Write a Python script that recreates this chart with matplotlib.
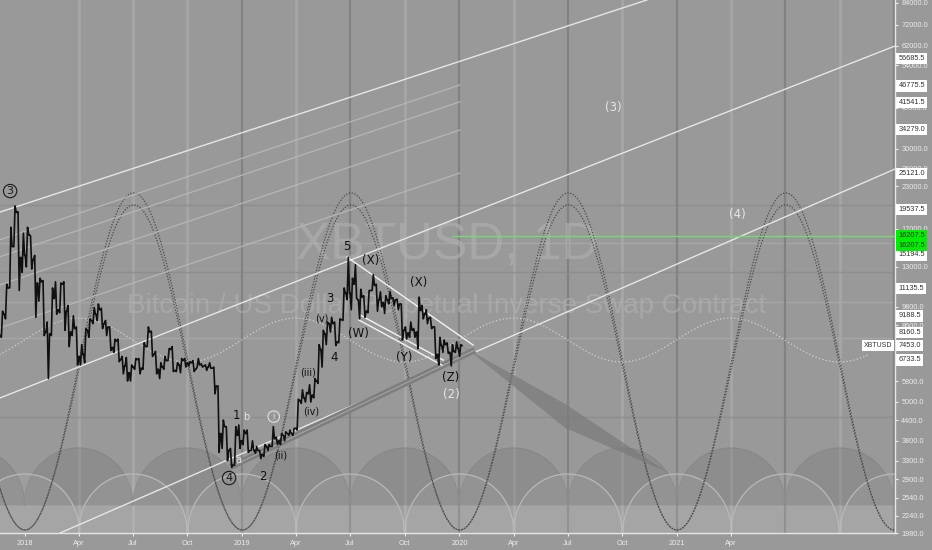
import numpy as np
import pandas as pd
import matplotlib
matplotlib.use("Agg")
import matplotlib.pyplot as plt
import matplotlib.dates as mdates
from matplotlib.patches import Polygon
from matplotlib.ticker import FixedLocator, NullLocator, FixedFormatter

# ---------------- data ----------------
week_start = "2017-11-20"
first_open = 8000
highs = [9500, 11500, 17200, 20000, 19200, 16500, 17200, 16200, 14100, 12000,
         11800, 8800, 11200, 11700, 11600, 11700, 9900, 9200, 8500, 7500,
         8400, 9000, 9750, 10000, 9700, 8900, 8500, 7800, 7800, 6900,
         6850, 6500, 6800, 6800, 7600, 8500, 8250, 7150, 6600, 6900,
         7300, 7400, 6600, 6800, 6800, 6650, 6700, 6800, 6550, 6500,
         6600, 6400, 5600, 4400, 4200, 3600, 4200, 4250, 4100, 4100,
         3800, 3650, 3550, 3700, 3700, 4200, 3900, 4000, 4050, 4100,
         4150, 5100, 5450, 5350, 5650, 5900, 7500, 8300, 8800, 9100,
         8800, 9000, 11200, 13900, 12000, 13200, 11100, 10600, 11000, 12300,
         11500, 10900, 10600, 10900, 10450, 10350, 10000, 8500, 8800, 8400,
         10500, 9900, 9600, 9100, 8500, 7900, 7750, 7600, 7500, 7650, 7500]
lows = [7900, 9000, 11200, 15000, 11000, 12500, 13000, 12800, 9100, 10200,
        8000, 5900, 8000, 9300, 9400, 8300, 7400, 8000, 6500, 6500,
        6600, 7900, 8700, 8900, 8400, 8000, 7200, 7100, 6650, 6100,
        5800, 5800, 6300, 6100, 6300, 7400, 6900, 6100, 5900, 6300,
        6700, 6200, 6200, 6150, 6400, 6450, 6200, 6400, 6400, 6250,
        6350, 5300, 3500, 3600, 3300, 3150, 3200, 3600, 3700, 3500,
        3550, 3480, 3350, 3400, 3550, 3650, 3700, 3700, 3800, 3950,
        3950, 4100, 4950, 5000, 5000, 5150, 5700, 6400, 7500, 8200,
        7450, 7600, 8900, 10300, 9600, 10400, 9000, 9100, 9400, 11000,
        9500, 9800, 9350, 10000, 9900, 9600, 7750, 7800, 7900, 7900,
        7300, 9000, 8700, 8400, 6800, 6500, 7100, 7050, 6450, 7100, 6900]
closes = [9300, 11200, 15000, 19100, 13900, 14100, 16300, 13700, 11600, 11700,
          8200, 8100, 10400, 9600, 11500, 9500, 8200, 8400, 6900, 7000,
          8300, 8900, 9300, 9600, 8700, 8500, 7350, 7700, 6750, 6450,
          6150, 6400, 6750, 6350, 7400, 8200, 7000, 6300, 6400, 6700,
          7250, 6250, 6500, 6700, 6600, 6600, 6300, 6500, 6450, 6400,
          6350, 5600, 4000, 4200, 3550, 3200, 3950, 3800, 4000, 3550,
          3550, 3550, 3450, 3650, 3650, 3850, 3800, 3950, 4000, 4000,
          4150, 5050, 5150, 5300, 5250, 5800, 7250, 8100, 8700, 8700,
          7650, 8950, 10800, 10800, 11500, 10300, 10500, 9500, 11000, 11400,
          10300, 10100, 10300, 10400, 10300, 10000, 8300, 8150, 8300, 8200,
          9550, 9300, 9050, 8500, 7000, 7450, 7500, 7100, 7150, 7300, 7453]

price_ticks = [84000, 72000, 62000, 54000, 40000, 30000, 26000, 23000, 17000,
               13000, 9800, 8600, 5800, 5000, 4400, 3800, 3300, 2900, 2540, 2240, 1980]
box_prices = [56685.5, 46775.5, 41541.5, 34279.0, 25121.0, 19537.5, 15194.5,
              11135.5, 9188.5, 8160.5, 7453.0, 6733.5]
box_shift_px = [0, 0, 0, 0, 0, 0, -10, 0, 0, 0, 0, 0]
green_prices = [16207.5, 16207.5]
green_shift_px = [0, -9.5]

date_ticks = ["2018-01-01", "2018-04-01", "2018-07-01", "2018-10-01", "2019-01-01",
              "2019-04-01", "2019-07-01", "2019-10-01", "2020-01-01", "2020-04-01",
              "2020-07-01", "2020-10-01", "2021-01-01", "2021-04-01"]
date_labels = ["2018", "Apr", "Jul", "Oct", "2019", "Apr", "Jul", "Oct", "2020",
               "Apr", "Jul", "Oct", "2021", "Apr"]

dark_vlines = ["2019-01-01", "2019-07-01", "2020-01-01", "2020-07-01",
               "2021-01-01", "2021-07-01", "2022-01-01"]
light_vlines = ["2018-04-01", "2018-07-01", "2018-10-01", "2019-04-01", "2019-10-01",
                "2020-04-01", "2020-10-01", "2021-04-01", "2021-10-01"]
hline_prices = [20140, 15390, 12530, 10140, 7860, 4500]
hline_dark = [True, False, True, False, False, True]

# channel / fan lines (start date, start price, end date, end price)
bright_lines = [("2017-11-20", 19150, "2020-11-11", 85800),
                ("2017-11-20", 5145, "2022-01-06", 62400),
                ("2018-03-01", 1980, "2022-01-06", 26160)]
faint_start = [15740, 13970, 11450, 8445]
faint_end = [47070, 41780, 34240, 25250]
faint_dates = ("2017-11-20", "2020-01-02")

triangle_lines = [("2019-06-26", 13940, "2020-01-24", 7480),
                  ("2019-07-18", 9250, "2019-12-05", 6720),
                  ("2019-07-16", 8930, "2019-12-03", 6485)]
support_line = ("2018-12-12", 3158, "2020-01-27", 7220)
wedge_dates = ["2020-01-02", "2020-06-27", "2020-12-15", "2020-06-27", "2020-01-27"]
wedge_prices = [7480, 4930, 3047, 4160, 6970]
green_line = ("2019-12-20", 16207.5)

# cycle tools
cycle_anchor = "2018-01-01"      # trough of the big cycles
cycle_low = 2022
cycle_highs = [21930, 20140]
small_anchor = "2018-04-01"      # peak of the small cycle
small_high, small_low = 9050, 6635
dome_centers = ["2017-10-01", "2018-04-01", "2018-10-01", "2019-04-01", "2019-10-01",
                "2020-04-01", "2020-10-01", "2021-04-01", "2021-10-01"]
dome_base, dome_top = 2414, 3610
arc_centers = ["2017-07-01", "2018-01-01", "2018-07-01", "2019-01-01", "2019-07-01",
               "2020-01-01", "2020-07-01", "2021-01-01", "2021-07-01", "2022-01-01"]
arc_base, arc_top = 1990, 3005

wave_labels = [
    ("3", "2017-12-07", 22220, "#1a1a1a", 8, True),
    ("4", "2018-12-10", 2921, "#1a1a1a", 8, True),
    ("1", "2018-12-23", 4530, "#111111", 8.5, False),
    ("b", "2019-01-08", 4490, "#e0e0e0", 7, False),
    ("a", "2018-12-25", 3317, "#e0e0e0", 7, False),
    ("2", "2019-02-05", 2962, "#111111", 8.5, False),
    ("i", "2019-02-23", 4510, "#e0e0e0", 6, True),
    ("(ii)", "2019-03-06", 3435, "#111111", 7, False),
    ("(iii)", "2019-04-21", 6180, "#111111", 7, False),
    ("(iv)", "2019-04-27", 4660, "#111111", 7, False),
    ("(v)", "2019-05-14", 9050, "#111111", 7, False),
    ("3", "2019-05-28", 10360, "#111111", 8.5, False),
    ("4", "2019-06-05", 6870, "#111111", 8.5, False),
    ("5", "2019-06-26", 14970, "#111111", 8.5, False),
    ("(X)", "2019-08-05", 13640, "#111111", 8.5, False),
    ("(W)", "2019-07-15", 8090, "#111111", 8.5, False),
    ("(Y)", "2019-09-30", 6870, "#111111", 8.5, False),
    ("(X)", "2019-10-25", 11680, "#111111", 8.5, False),
    ("(Z)", "2019-12-18", 5925, "#111111", 8.5, False),
    ("(2)", "2019-12-18", 5255, "#e6e6e6", 8.5, False),
    ("(3)", "2020-09-15", 40200, "#e6e6e6", 8.5, False),
    ("(4)", "2021-04-12", 18870, "#e6e6e6", 8.5, False),
]

# ---------------- figure ----------------
BG = "#999999"
plt.rcParams["font.family"] = ["Liberation Sans", "DejaVu Sans"]
fig = plt.figure(figsize=(9.32, 5.5), dpi=100, facecolor=BG)
ax = fig.add_axes([0, 17 / 550, 895 / 932, 533 / 550], facecolor=BG)
ax.set_yscale("log")
x0 = pd.Timestamp("2017-11-20")
x1 = pd.Timestamp("2022-01-02")
ax.set_xlim(x0, x1)
ax.set_ylim(1980, 85800)

def D(s):
    return pd.Timestamp(s)

# grid-like verticals and horizontals
for d in light_vlines:
    ax.axvline(D(d), color="#a6a6a6", lw=2.0, zorder=0.3)
for d in dark_vlines:
    ax.axvline(D(d), color="#828282", lw=1.6, zorder=0.35)
for p, dk in zip(hline_prices, hline_dark):
    ax.axhline(p, color="#8e8e8e" if dk else "#a6a6a6", lw=1.0, zorder=0.3)

# bottom band
ax.axhspan(1980, dome_base, color="white", alpha=0.08, lw=0, zorder=0.4)

# domes (darker) and arcs (lighter)
half = 91.3
u = np.linspace(-1, 1, 200)
for c in dome_centers:
    cx = mdates.date2num(D(c))
    xs = cx + u * half
    ys = np.exp(np.log(dome_base) + np.log(dome_top / dome_base) * np.sqrt(1 - u ** 2))
    ax.fill_between(mdates.num2date(xs), dome_base, ys, color="#6a6a6a", alpha=0.25, lw=0, zorder=0.5)
    ax.plot(mdates.num2date(xs), ys, color="#878787", lw=0.9, zorder=0.55)
for c in arc_centers:
    cx = mdates.date2num(D(c))
    xs = cx + u * half
    ys = np.exp(np.log(arc_base) + np.log(arc_top / arc_base) * np.sqrt(1 - u ** 2))
    ax.fill_between(mdates.num2date(xs), arc_base, ys, color="white", alpha=0.06, lw=0, zorder=0.6)
    ax.plot(mdates.num2date(xs), ys, color="#b9b9b9", lw=0.9, zorder=0.65)

# watermark
ax.text(0.4994, 0.5385, "XBTUSD, 1D", transform=ax.transAxes, ha="center", va="center",
        fontsize=37, color="#b2b2b2", alpha=0.6, zorder=0.7)
ax.text(0.4994, 0.426, "Bitcoin / US Dollar Perpetual Inverse Swap Contract",
        transform=ax.transAxes, ha="center", va="center",
        fontsize=20, color="#b2b2b2", alpha=0.6, zorder=0.7)

# big cycle sine lines (dotted)
t = np.linspace(mdates.date2num(x0) - 5, mdates.date2num(x1) + 5, 1500)
ph = 2 * np.pi * (t - mdates.date2num(D(cycle_anchor))) / 365.25
for hi in cycle_highs:
    yv = np.exp(np.log(cycle_low) + np.log(hi / cycle_low) * (1 - np.cos(ph)) / 2)
    ax.plot(mdates.num2date(t), yv, color="#4a4a4a", lw=0.9, ls=(0, (1, 1.3)), zorder=2)
ph2 = 2 * np.pi * (t - mdates.date2num(D(small_anchor))) / 365.25
ys2 = np.exp(np.log(small_low) + np.log(small_high / small_low) * (1 + np.cos(ph2)) / 2)
mask = t < mdates.date2num(D("2021-11-20"))
ax.plot(mdates.num2date(t[mask]), ys2[mask], color="#d2d2d2", lw=0.9, ls=(0, (1, 1.8)), zorder=2)

# channel lines
for d0, p0, d1, p1 in bright_lines:
    ax.plot([D(d0), D(d1)], [p0, p1], color="#e6e6e6", lw=1.0, zorder=2.2)
for p0, p1 in zip(faint_start, faint_end):
    ax.plot([D(faint_dates[0]), D(faint_dates[1])], [p0, p1], color="#b6b6b6", lw=0.9, zorder=2.1)

# green level
ax.plot([D(green_line[0]), x1], [green_line[1], green_line[1]], color="#74d874", lw=1.0, zorder=2.2)

# wedge projection
ax.add_patch(Polygon(list(zip(mdates.date2num([D(d) for d in wedge_dates]), wedge_prices)),
                     closed=True, fc="#7a7a7a", ec="none", alpha=0.7, zorder=2.3))

# support band line
d0, p0, d1, p1 = support_line
ax.plot([D(d0), D(d1)], [p0, p1], color="#7e7e7e", lw=4.5, zorder=2.4, solid_capstyle="butt")
ax.plot([D(d0), D(d1)], [p0, p1], color="#a4a4a4", lw=0.8, zorder=2.45)

# triangle lines
for d0, p0, d1, p1 in triangle_lines:
    ax.plot([D(d0), D(d1)], [p0, p1], color="#f2f2f2", lw=1.0, zorder=2.5)

# price (weekly high/low/close drawn as a zigzag)
start = D(week_start)
px, py = [], []
prev = first_open
for i, (h, l, c) in enumerate(zip(highs, lows, closes)):
    d = start + pd.Timedelta(days=7 * i)
    mid = [l, h] if c >= prev else [h, l]
    for off, v in zip([0.3, 2.3, 4.3, 6.3], [prev] + mid + [c]):
        px.append(d + pd.Timedelta(days=off))
        py.append(v)
    prev = c
ax.plot(px, py, color="#111111", lw=1.2, zorder=5)

# wave labels
for txt, d, p, col, fs, circ in wave_labels:
    kw = {}
    if circ:
        kw["bbox"] = dict(boxstyle="circle,pad=0.15", fc="none", ec=col, lw=0.8)
    ax.text(D(d), p, txt, color=col, fontsize=fs, ha="center", va="center", zorder=6,
            family=["DejaVu Sans"], **kw)

# axes styling
for s in ["top", "left"]:
    ax.spines[s].set_visible(False)
for s in ["right", "bottom"]:
    ax.spines[s].set_color("#e6e6e6")
    ax.spines[s].set_linewidth(1.0)
    ax.spines[s].set_zorder(7)

ax.yaxis.tick_right()
ax.yaxis.set_major_locator(FixedLocator(price_ticks))
ax.yaxis.set_major_formatter(FixedFormatter([f"{v:.1f}" for v in price_ticks]))
ax.yaxis.set_minor_locator(NullLocator())
ax.tick_params(axis="y", colors="#ececec", labelsize=5.3, length=2.5, width=0.8, pad=2)

ax.xaxis.set_major_locator(FixedLocator(mdates.date2num([D(d) for d in date_ticks])))
ax.xaxis.set_major_formatter(FixedFormatter(date_labels))
ax.xaxis.set_minor_locator(NullLocator())
ax.tick_params(axis="x", colors="#ececec", labelsize=5.3, length=2.5, width=0.8, pad=2.5)

# price-scale label boxes
for p, sh in zip(box_prices, box_shift_px):
    ax.annotate(f"{p:.1f}", xy=(1, p), xycoords=("axes fraction", "data"),
                xytext=(2.5, sh * 0.72), textcoords="offset points", ha="left", va="center",
                fontsize=5.3, color="#333333", annotation_clip=False, zorder=8,
                bbox=dict(boxstyle="square,pad=0.3", fc="white", ec="none"))
for p, sh in zip(green_prices, green_shift_px):
    ax.annotate(f"{p:.1f}", xy=(1, p), xycoords=("axes fraction", "data"),
                xytext=(2.5, sh * 0.72), textcoords="offset points", ha="left", va="center",
                fontsize=5.3, color="#333333", annotation_clip=False, zorder=8,
                bbox=dict(boxstyle="square,pad=0.3", fc="#00ee00", ec="none"))
ax.annotate("XBTUSD", xy=(1, closes[-1]), xycoords=("axes fraction", "data"),
            xytext=(-2, 0), textcoords="offset points", ha="right", va="center",
            fontsize=5.0, color="#333333", annotation_clip=False, zorder=8,
            bbox=dict(boxstyle="square,pad=0.3", fc="white", ec="none"))

fig.savefig("out.png", dpi=100, facecolor=BG)
